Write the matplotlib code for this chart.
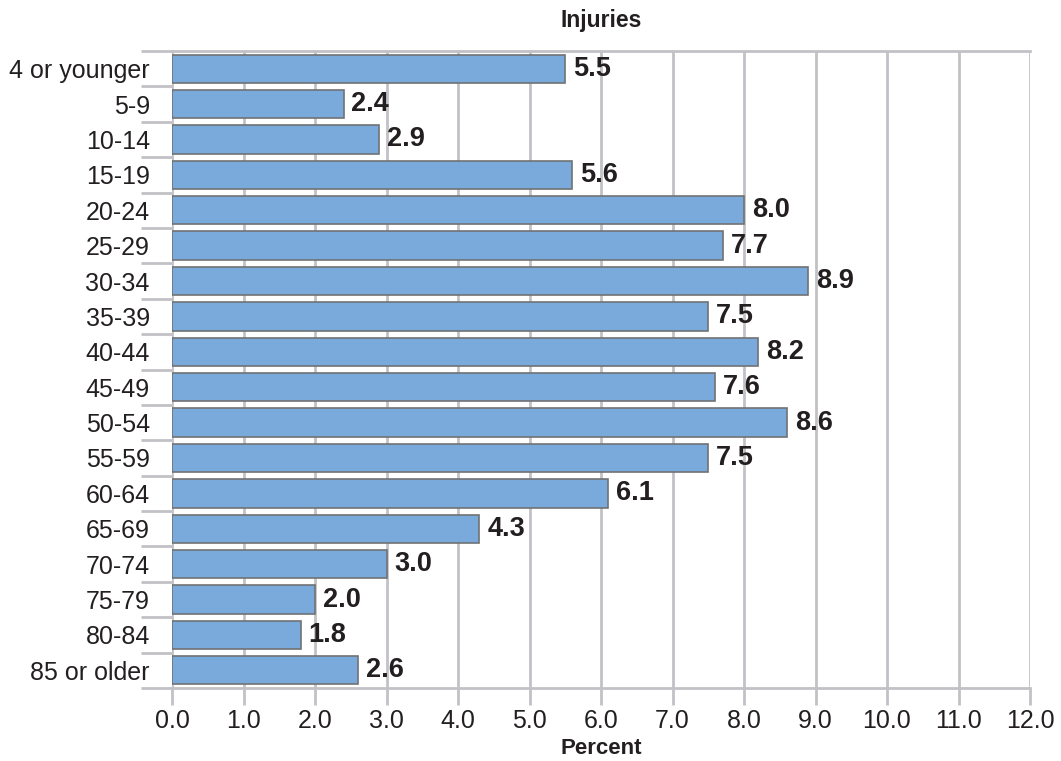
import matplotlib
matplotlib.use("Agg")
import matplotlib.pyplot as plt
import numpy as np

categories = ["4 or younger", "5-9", "10-14", "15-19", "20-24", "25-29", "30-34",
              "35-39", "40-44", "45-49", "50-54", "55-59", "60-64", "65-69",
              "70-74", "75-79", "80-84", "85 or older"]
values = [5.5, 2.4, 2.9, 5.6, 8.0, 7.7, 8.9, 7.5, 8.2, 7.6, 8.6, 7.5, 6.1, 4.3,
          3.0, 2.0, 1.8, 2.6]
xticks = [0, 1, 2, 3, 4, 5, 6, 7, 8, 9, 10, 11, 12]

plt.rcParams['font.family'] = ['Liberation Sans', 'DejaVu Sans']
grid_c = "#c2c2c6"
text_c = "#231f20"

fig = plt.figure(figsize=(10.61, 7.61), dpi=100)
ax = fig.add_axes([172/1061, 1 - 688/761, (1030-172)/1061, (688-51)/761])

y = np.arange(len(categories))
ax.barh(y, values, height=0.8, color="#7aaadc", edgecolor="#707274", linewidth=1.2, zorder=3)
for yi, v in zip(y, values):
    ax.text(v + 0.11, yi, f"{v:.1f}", va="center", ha="left", fontsize=19.5,
            fontweight="bold", color=text_c, zorder=4)

ax.set_xlim(0, 12)
ax.set_ylim(len(categories) - 0.5, -0.5)
for s in ax.spines.values():
    s.set_visible(False)

ax.set_xticks(xticks)
ax.set_xticklabels([f"{t:.1f}" for t in xticks], fontsize=18, color=text_c)
ax.tick_params(axis="x", length=12, width=2, color=grid_c, pad=3)
ax.grid(axis="x", color=grid_c, linewidth=2, zorder=1)

ax.set_yticks(y)
ax.set_yticklabels(categories, fontsize=18, color=text_c)
ax.tick_params(axis="y", which="major", length=0, pad=16)
ax.set_yticks(np.arange(-0.5, len(categories), 1.0), minor=True)
ax.tick_params(axis="y", which="minor", length=22, width=2, color=grid_c)

for yy in (-0.5, len(categories) - 0.5):
    ax.axhline(yy, color=grid_c, linewidth=2, zorder=1, clip_on=False)

ax.set_title("Injuries", fontsize=16.5, fontweight="bold", color=text_c, pad=17)
ax.set_xlabel("Percent", fontsize=16, fontweight="bold", color=text_c, labelpad=4)

fig.savefig("out.png", dpi=100)
